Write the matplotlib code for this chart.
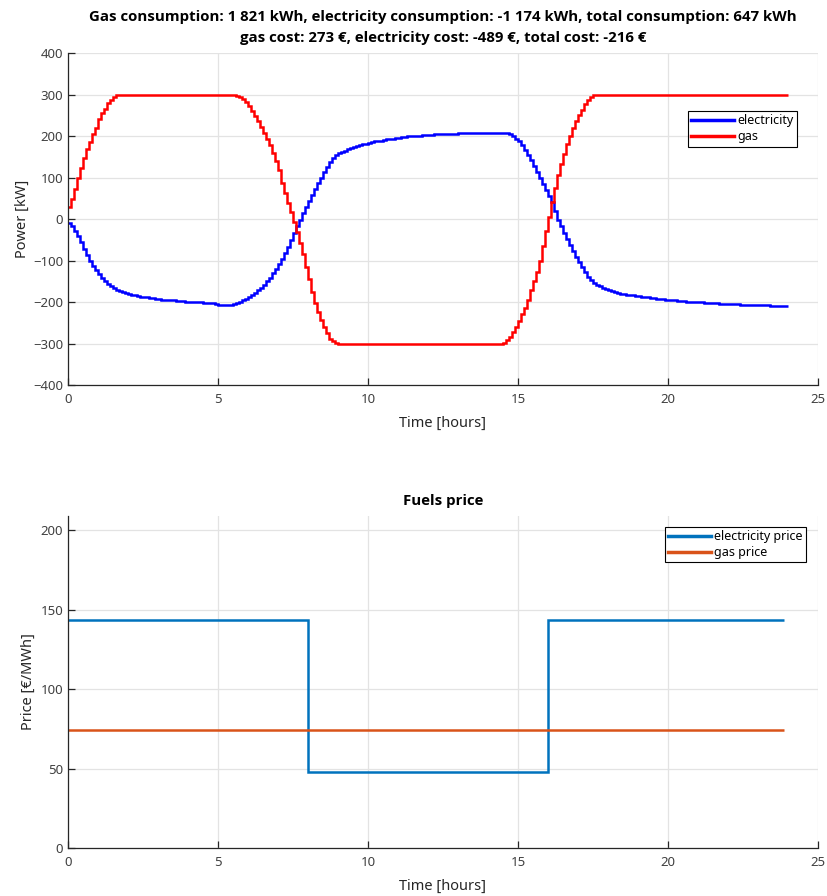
import numpy as np
import matplotlib
matplotlib.use("Agg")
import matplotlib.pyplot as plt

plt.rcParams['font.family'] = ['Noto Sans', 'DejaVu Sans']

# power profiles, one value every 6 minutes (rows = hours)
time_step_h = 0.1
gas_kw = [
    28, 48, 72, 98, 124, 148, 168, 186, 204, 220,
    240, 255, 266, 279, 288, 295, 299, 300, 300, 300,
    300, 300, 300, 300, 300, 300, 300, 300, 300, 300,
    300, 300, 300, 300, 300, 300, 300, 300, 300, 300,
    300, 300, 300, 300, 300, 300, 300, 300, 300, 300,
    300, 300, 300, 300, 300, 299, 297, 294, 289, 282,
    272, 260, 249, 237, 222, 207, 193, 178, 160, 140,
    118, 88, 62, 38, 16, -8, -32, -58, -85, -115,
    -145, -175, -203, -225, -243, -260, -275, -288, -295, -299,
    -300, -300, -300, -300, -300, -300, -300, -300, -300, -300,
    -300, -300, -300, -300, -300, -300, -300, -300, -300, -300,
    -300, -300, -300, -300, -300, -300, -300, -300, -300, -300,
    -300, -300, -300, -300, -300, -300, -300, -300, -300, -300,
    -300, -300, -300, -300, -300, -300, -300, -300, -300, -300,
    -300, -300, -300, -300, -300, -298, -292, -284, -273, -260,
    -245, -230, -215, -194, -171, -150, -128, -100, -65, -30,
    5, 40, 75, 105, 132, 157, 180, 200, 220, 236,
    250, 263, 276, 287, 294, 298, 300, 300, 300, 300,
    300, 300, 300, 300, 300, 300, 300, 300, 300, 300,
    300, 300, 300, 300, 300, 300, 300, 300, 300, 300,
    300, 300, 300, 300, 300, 300, 300, 300, 300, 300,
    300, 300, 300, 300, 300, 300, 300, 300, 300, 300,
    300, 300, 300, 300, 300, 300, 300, 300, 300, 300,
    300, 300, 300, 300, 300, 300, 300, 300, 300, 300,
]
electricity_kw = [
    -10, -18, -30, -42, -55, -72, -86, -100, -112, -123,
    -133, -142, -150, -156, -162, -167, -171, -174, -177, -179,
    -181, -183, -184, -186, -187, -188, -189, -190, -191, -192,
    -193, -194, -194, -195, -196, -196, -197, -198, -198, -199,
    -199, -200, -200, -201, -201, -202, -202, -203, -203, -204,
    -206, -207, -207, -207, -207, -205, -202, -199, -196, -192,
    -188, -183, -178, -172, -166, -158, -150, -141, -131, -120,
    -108, -96, -82, -67, -51, -34, -18, -2, 14, 30,
    44, 58, 72, 86, 100, 113, 126, 138, 147, 154,
    158, 162, 165, 168, 171, 174, 176, 178, 180, 182,
    184, 185, 187, 188, 189, 191, 192, 193, 194, 195,
    196, 197, 198, 199, 199, 200, 201, 201, 202, 202,
    203, 203, 204, 204, 205, 205, 205, 206, 206, 206,
    207, 207, 207, 207, 208, 208, 208, 208, 208, 208,
    208, 208, 208, 208, 208, 208, 207, 205, 200, 194,
    188, 179, 167, 155, 142, 128, 113, 98, 84, 70,
    56, 40, 20, -3, -18, -33, -48, -63, -77, -91,
    -104, -116, -128, -139, -147, -153, -158, -162, -166, -169,
    -172, -174, -176, -178, -180, -181, -182, -183, -184, -185,
    -186, -187, -188, -189, -190, -191, -192, -193, -193, -194,
    -195, -196, -196, -197, -198, -198, -199, -199, -200, -200,
    -201, -201, -202, -202, -203, -203, -203, -204, -204, -204,
    -205, -205, -205, -205, -206, -206, -206, -206, -207, -207,
    -207, -208, -208, -208, -209, -209, -209, -209, -210, -210,
]

# hourly prices [EUR/MWh]
price_hours = list(range(24))
electricity_price = [143.7] * 8 + [47.8] * 8 + [143.7] * 8
gas_price = [74.3] * 24
price_end_h = 23.875

title_top = ("Gas consumption: 1 821 kWh, electricity consumption: -1 174 kWh, "
             "total consumption: 647 kWh\ngas cost: 273 \u20ac, electricity cost: -489 \u20ac, "
             "total cost: -216 \u20ac")
title_font = ['Open Sans', 'DejaVu Sans']

fig = plt.figure(figsize=(8.27, 8.96), dpi=100)
ax1 = fig.add_axes([0.0822, 0.5703, 0.9068, 0.3705])
ax2 = fig.add_axes([0.0822, 0.0536, 0.9068, 0.3705])


def style_axes(ax):
    for side in ("top", "right"):
        ax.spines[side].set_visible(False)
    for side in ("left", "bottom"):
        ax.spines[side].set_color("#262626")
        ax.spines[side].set_linewidth(0.9)
    ax.grid(True, color="#e3e3e3", linewidth=0.9)
    ax.set_axisbelow(True)
    ax.tick_params(direction="in", length=5, width=0.9, colors="#262626",
                   labelsize=9.5, labelcolor="#404040")
    ax.tick_params(axis="x", pad=6)
    ax.set_xlim(0, 25)
    ax.set_xticks([0, 5, 10, 15, 20, 25])


t_edges = np.append(np.arange(len(gas_kw)) * time_step_h, len(gas_kw) * time_step_h)

ax1.stairs(electricity_kw, t_edges, baseline=None, color="#0000ff", linewidth=1.8,
           label="electricity")
ax1.stairs(gas_kw, t_edges, baseline=None, color="#ff0000", linewidth=1.8, label="gas")
style_axes(ax1)
ax1.set_ylim(-400, 400)
ax1.set_yticks(np.arange(-400, 401, 100))
ax1.set_xlabel("Time [hours]", fontsize=10.5, color="#262626", labelpad=7)
ax1.set_ylabel("Power [kW]", fontsize=10.5, color="#262626", labelpad=2)
ax1.set_title(title_top, fontsize=10.8, fontweight="bold", family=title_font,
              linespacing=1.6, pad=8)
leg1 = ax1.legend(loc="upper right", bbox_to_anchor=(0.972, 0.825), borderaxespad=0,
                  fancybox=False, edgecolor="black", framealpha=1, fontsize=9,
                  handlelength=3.4, handletextpad=0.3, borderpad=0.25, labelspacing=0.25)
leg1.get_frame().set_linewidth(0.8)
for ln in leg1.get_lines():
    ln.set_linewidth(2.5)

p_edges = np.append(price_hours, price_end_h)
ax2.stairs(electricity_price, p_edges, baseline=None, color="#0072bd", linewidth=1.8,
           label="electricity price")
ax2.stairs(gas_price, p_edges, baseline=None, color="#d95319", linewidth=1.8,
           label="gas price")
style_axes(ax2)
ax2.set_ylim(0, 209)
ax2.set_yticks([0, 50, 100, 150, 200])
ax2.set_xlabel("Time [hours]", fontsize=10.5, color="#262626", labelpad=7)
ax2.set_ylabel("Price [\u20ac/MWh]", fontsize=10.5, color="#262626", labelpad=3)
ax2.set_title("Fuels price", fontsize=10.8, fontweight="bold", family=title_font, pad=8)
leg2 = ax2.legend(loc="upper right", bbox_to_anchor=(0.984, 0.967), borderaxespad=0,
                  fancybox=False, edgecolor="black", framealpha=1, fontsize=9,
                  handlelength=3.4, handletextpad=0.3, borderpad=0.25, labelspacing=0.25)
leg2.get_frame().set_linewidth(0.8)
for ln in leg2.get_lines():
    ln.set_linewidth(2.5)

fig.savefig("out.png", dpi=100)
